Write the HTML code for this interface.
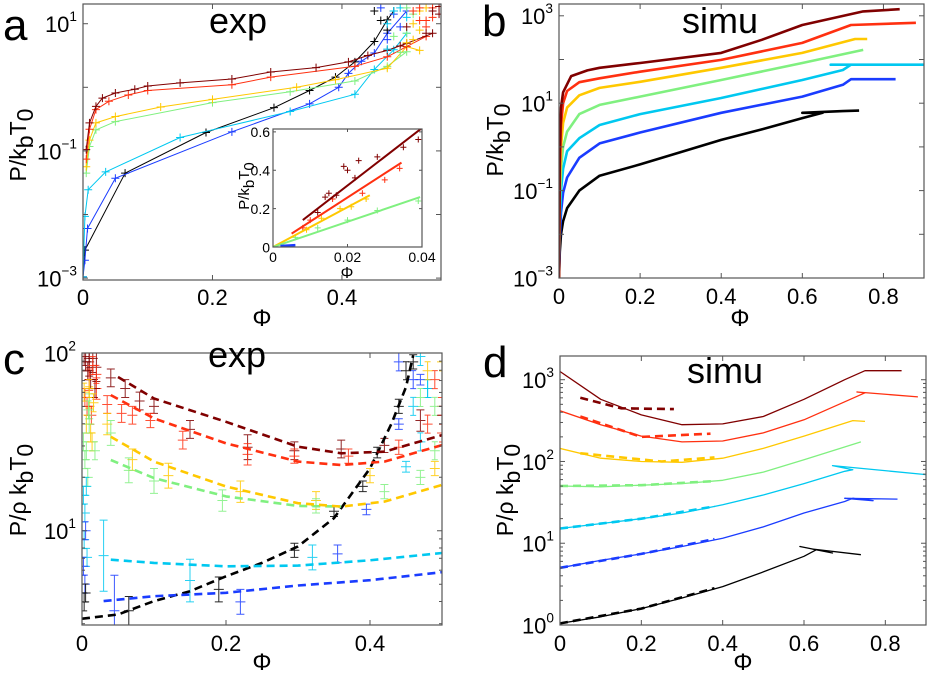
<!DOCTYPE html>
<html><head><meta charset="utf-8">
<style>
html,body{margin:0;padding:0;background:#fff;}
svg{display:block;font-family:"Liberation Sans",sans-serif;}
</style></head>
<body>
<svg id="fig" width="927" height="674" viewBox="0 0 927 674" xmlns="http://www.w3.org/2000/svg"></svg>
<script>
// ---------- DATA ----------
const seriesNames = ['black','blue','cyan','green','yellow','red','darkred'];
const seriesColors = ['#000000','#1a3cff','#00c8f0','#80f080','#ffc800','#ff3010','#800000'];

// Panel a (exp): phi and log10(P/kbT0)
const aPhi = {
 darkred:[0.005,0.01,0.02,0.03,0.05,0.08,0.1,0.15,0.23,0.29,0.36,0.41,0.44,0.47,0.5,0.54],
 red:[0.005,0.01,0.02,0.04,0.07,0.1,0.23,0.29,0.42,0.47,0.5,0.53],
 yellow:[0.005,0.01,0.02,0.05,0.12,0.2,0.33,0.39,0.47,0.5,0.52],
 green:[0.005,0.01,0.02,0.05,0.2,0.32,0.42,0.47,0.5],
 cyan:[0,0.003,0.008,0.035,0.15,0.32,0.42,0.45,0.48,0.5],
 blue:[0,0.003,0.007,0.05,0.23,0.35,0.395,0.41,0.43,0.45,0.47,0.5],
 black:[0,0.003,0.065,0.19,0.295,0.35,0.39,0.42,0.45,0.47,0.48]
};
const aLogP = {
 darkred:[-0.98,-0.56,-0.30,-0.17,-0.09,-0.03,0.02,0.07,0.13,0.24,0.31,0.40,0.50,0.58,0.69,0.85],
 red:[-1.13,-0.66,-0.35,-0.22,-0.12,-0.05,0.04,0.16,0.33,0.48,0.64,0.80],
 yellow:[-1.25,-0.83,-0.56,-0.46,-0.31,-0.19,0.00,0.12,0.30,0.64,0.58],
 green:[-1.35,-0.93,-0.67,-0.54,-0.24,-0.07,0.10,0.33,0.56],
 cyan:[-2.98,-2.03,-1.61,-1.33,-0.79,-0.38,-0.11,0.28,0.59,0.85],
 blue:[-2.98,-2.72,-2.22,-1.43,-0.70,-0.26,0.00,0.22,0.41,0.54,0.85,1.2],
 black:[-2.98,-2.56,-1.35,-0.71,-0.32,-0.05,0.16,0.40,0.72,1.06,1.2]
};
// Panel a dense marker cluster top-right
const aCluPhi = [0.45,0.46,0.47,0.48,0.46,0.47,0.49,0.48,0.5,0.47,0.49,0.5,0.51,0.48,0.5,0.52,0.51,0.53,0.5,0.52,0.54,0.53,0.51,0.52,0.54,0.55,0.53,0.54,0.5,0.49,0.52,0.51,0.55,0.53,0.47,0.49];
const aCluLog = [1.2,1.05,0.9,1.15,1.25,0.75,0.95,1.2,1.1,1.0,1.25,0.85,1.15,0.8,1.25,1.2,1.0,1.25,0.7,0.9,1.1,0.95,1.2,1.05,1.25,1.15,0.85,1.2,0.95,0.65,1.25,0.75,1.27,1.05,0.6,0.55];
const aCluS = ['black','black','black','blue','blue','blue','blue','cyan','cyan','cyan','cyan','green','green','green','green','yellow','yellow','yellow','yellow','yellow','red','red','red','red','red','darkred','darkred','darkred','darkred','darkred','red','yellow','darkred','red','cyan','green'];
// inset a: linear fits
const insetNames = ['darkred','red','yellow','green'];
const insetX0 = [0.008,0.005,0.0,0.0];
const insetY0 = [0.14,0.07,0.0,0.0];
const insetX1 = [0.04,0.0345,0.026,0.0395];
const insetY1 = [0.62,0.44,0.27,0.26];
const insetPtsX = [0.012,0.014,0.015,0.017,0.019,0.02,0.022,0.023,0.028,0.035,0.039,0.008,0.01,0.016,0.024,0.03,0.034,0.009,0.013,0.018,0.021,0.025,0.006,0.012,0.02,0.028,0.039];
const insetPtsY = [0.18,0.26,0.28,0.27,0.42,0.40,0.36,0.45,0.47,0.52,0.56,0.10,0.14,0.25,0.28,0.35,0.41,0.09,0.15,0.20,0.21,0.25,0.05,0.10,0.14,0.19,0.24];
const insetPtsS = ['darkred','darkred','darkred','darkred','darkred','darkred','darkred','darkred','darkred','darkred','darkred','red','red','red','red','red','red','yellow','yellow','yellow','yellow','yellow','green','green','green','green','green'];

// Panel b (simu)
const bPhi = {
 black:[0,0.002,0.005,0.01,0.02,0.05,0.1,0.2,0.3,0.4,0.5,0.6,0.65,0.6,0.7,0.74],
 blue:[0,0.002,0.005,0.01,0.02,0.05,0.1,0.2,0.4,0.6,0.7,0.72,0.83],
 cyan:[0,0.002,0.005,0.01,0.02,0.05,0.1,0.2,0.4,0.6,0.7,0.72,0.67,0.9],
 green:[0,0.002,0.005,0.01,0.02,0.05,0.1,0.2,0.4,0.6,0.75],
 yellow:[0,0.002,0.005,0.01,0.02,0.05,0.1,0.2,0.4,0.6,0.73,0.76],
 red:[0,0.002,0.005,0.01,0.02,0.05,0.1,0.2,0.4,0.6,0.72,0.88],
 darkred:[0,0.002,0.005,0.01,0.03,0.07,0.1,0.2,0.4,0.5,0.6,0.75,0.84]
};
const bLogP = {
 black:[-3,-2.4,-2.0,-1.7,-1.4,-1.0,-0.66,-0.4,-0.12,0.16,0.4,0.66,0.78,0.78,0.82,0.83],
 blue:[-3,-2.1,-1.5,-1.05,-0.7,-0.25,0.08,0.33,0.78,1.15,1.42,1.55,1.55],
 cyan:[-3,-1.7,-1.0,-0.5,-0.1,0.2,0.5,0.75,1.12,1.53,1.76,1.88,1.88,1.88],
 green:[-3,-1.3,-0.5,0.0,0.35,0.75,0.96,1.15,1.53,1.92,2.22],
 yellow:[-3,-0.9,0.0,0.55,0.9,1.18,1.35,1.49,1.81,2.15,2.47,2.47],
 red:[-3,-0.5,0.5,1.0,1.28,1.48,1.57,1.72,1.99,2.38,2.79,2.84],
 darkred:[-3,-0.1,0.9,1.25,1.62,1.75,1.81,1.92,2.15,2.45,2.79,3.1,3.15]
};

// Panel c (exp): dashed model curves, log10(P/rho kbT0)
const cPhi = {
 darkred:[0.05,0.1,0.2,0.3,0.36,0.42,0.5],
 red:[0.04,0.1,0.2,0.3,0.36,0.42,0.5],
 yellow:[0.04,0.1,0.2,0.3,0.36,0.42,0.5],
 green:[0.04,0.1,0.2,0.3,0.36],
 cyan:[0.04,0.1,0.2,0.3,0.4,0.5],
 blue:[0.03,0.1,0.2,0.3,0.4,0.5],
 black:[0,0.05,0.1,0.15,0.2,0.25,0.3,0.35,0.4,0.43,0.45,0.46]
};
const cLogP = {
 darkred:[1.865,1.744,1.613,1.473,1.436,1.445,1.538],
 red:[1.763,1.632,1.492,1.389,1.370,1.389,1.482],
 yellow:[1.529,1.389,1.249,1.155,1.136,1.164,1.258],
 green:[1.398,1.296,1.193,1.140,1.136],
 cyan:[0.837,0.819,0.800,0.804,0.834,0.875],
 blue:[0.604,0.632,0.651,0.692,0.722,0.767],
 black:[0.505,0.529,0.604,0.660,0.744,0.819,0.912,1.071,1.351,1.604,1.809,1.987]
};
// Panel c error-bar points
const cPtPhi = [0.01,0.015,0.02,0.04,0.06,0.08,0.1,0.15,0.23,0.295,0.36,0.42,0.47,
 0.01,0.02,0.035,0.055,0.07,0.095,0.14,0.23,0.295,0.37,0.44,0.5,
 0.01,0.035,0.07,0.12,0.22,0.325,0.40,0.49,
 0.01,0.04,0.065,0.1,0.195,0.325,0.42,0.47,
 0.03,0.15,0.32,0.45,0.48,
 0.045,0.22,0.355,0.395,0.44,0.47,
 0.065,0.19,0.295,0.35,0.39,0.41,0.44,0.46];
const cPtLog = [1.95,1.97,1.92,1.86,1.80,1.73,1.70,1.57,1.47,1.45,1.46,1.48,1.62,
 1.85,1.80,1.71,1.66,1.65,1.62,1.51,1.43,1.42,1.42,1.47,1.70,
 1.75,1.60,1.40,1.31,1.22,1.17,1.31,1.35,
 1.70,1.55,1.34,1.28,1.17,1.14,1.22,1.30,
 0.86,0.72,0.85,1.36,1.80,
 0.55,0.60,0.87,1.12,1.60,1.85,
 0.55,0.67,0.89,1.11,1.25,1.44,1.70,1.95];
const cPtErr = [0.08,0.08,0.08,0.05,0.05,0.05,0.04,0.05,0.07,0.05,0.05,0.04,0.06,
 0.06,0.06,0.05,0.05,0.05,0.04,0.05,0.06,0.04,0.04,0.04,0.05,
 0.06,0.06,0.06,0.07,0.06,0.05,0.04,0.04,
 0.07,0.07,0.07,0.07,0.06,0.04,0.04,0.04,
 0.2,0.12,0.07,0.03,0.05,
 0.2,0.07,0.05,0.03,0.03,0.03,
 0.08,0.07,0.04,0.03,0.03,0.03,0.04,0.04];
const cPtS = ['darkred','darkred','darkred','darkred','darkred','darkred','darkred','darkred','darkred','darkred','darkred','darkred','darkred',
 'red','red','red','red','red','red','red','red','red','red','red','red',
 'yellow','yellow','yellow','yellow','yellow','yellow','yellow','yellow',
 'green','green','green','green','green','green','green','green',
 'cyan','cyan','cyan','cyan','cyan',
 'blue','blue','blue','blue','blue','blue',
 'black','black','black','black','black','black','black','black'];
// Panel c dense clusters (near phi=0 and top-right)
const cCluPhi = [0.003,0.005,0.008,0.01,0.012,0.015,0.018,0.02,0.004,0.007,0.01,0.013,0.016,0.003,0.006,0.009,0.012,0.002,0.004,0.006,0.008,0.002,0.004,0.006,0.003,0.005,0.007,0.002,0.004,0.003,0.005,0.01,0.014,0.018,
 0.44,0.45,0.46,0.47,0.48,0.49,0.5,0.47,0.48,0.49,0.5,0.46,0.48,0.5,0.49,0.47];
const cCluLog = [1.98,1.95,1.9,1.97,1.85,1.93,1.8,1.88,1.75,1.7,1.8,1.65,1.72,1.78,1.6,1.68,1.55,1.5,1.4,1.45,1.3,1.2,1.1,1.25,0.95,1.0,0.85,0.8,0.7,0.6,0.65,1.6,1.5,1.45,
 1.95,1.9,1.85,1.98,1.8,1.7,1.95,1.75,1.6,1.85,1.65,1.7,1.9,1.55,1.45,1.5];
const cCluS = ['darkred','darkred','darkred','darkred','darkred','red','darkred','red','red','red','yellow','red','yellow','yellow','yellow','green','yellow','green','green','green','green','cyan','cyan','cyan','cyan','blue','cyan','blue','blue','black','black','green','yellow','green',
 'blue','black','blue','cyan','cyan','green','yellow','green','red','red','darkred','cyan','yellow','red','green','cyan'];

// Panel d (simu): solid
const dPhi = {
 darkred:[0,0.1,0.2,0.3,0.4,0.5,0.6,0.7,0.75,0.84],
 red:[0,0.1,0.2,0.3,0.4,0.5,0.6,0.7,0.75,0.73,0.88],
 yellow:[0,0.1,0.2,0.3,0.4,0.5,0.6,0.72,0.75],
 green:[0,0.1,0.2,0.3,0.4,0.5,0.6,0.74],
 cyan:[0,0.1,0.2,0.3,0.4,0.5,0.6,0.7,0.72,0.67,0.9],
 blue:[0,0.1,0.2,0.3,0.4,0.5,0.6,0.7,0.72,0.77,0.7,0.83],
 black:[0,0.1,0.2,0.3,0.4,0.5,0.6,0.63,0.59,0.67,0.62,0.74]
};
const dLogP = {
 darkred:[3.10,2.76,2.57,2.45,2.46,2.55,2.76,3.00,3.11,3.11],
 red:[2.62,2.45,2.31,2.24,2.25,2.35,2.51,2.73,2.84,2.85,2.79],
 yellow:[2.16,2.04,2.00,1.99,2.04,2.16,2.31,2.50,2.49],
 green:[1.70,1.69,1.71,1.73,1.77,1.87,2.02,2.24],
 cyan:[1.18,1.24,1.30,1.37,1.47,1.59,1.73,1.88,1.90,1.95,1.84],
 blue:[0.70,0.79,0.87,0.96,1.06,1.20,1.37,1.51,1.55,1.52,1.55,1.54],
 black:[0.02,0.10,0.20,0.33,0.47,0.65,0.84,0.92,0.96,0.88,0.93,0.86]
};
// Panel d dashed (theory)
const dDPhi = {
 darkred:[0.05,0.15,0.28], red:[0.05,0.2,0.37], yellow:[0.05,0.25,0.38],
 green:[0,0.2,0.38], cyan:[0,0.2,0.38], blue:[0,0.2,0.38], black:[0,0.2,0.38]
};
const dDLogP = {
 darkred:[2.78,2.65,2.64], red:[2.55,2.30,2.34], yellow:[2.10,2.00,2.05],
 green:[1.70,1.71,1.76], cyan:[1.18,1.30,1.45], blue:[0.70,0.87,1.05], black:[0.02,0.20,0.45]
};

// ---------- DRAWING ----------
const NS='http://www.w3.org/2000/svg';
const svg=document.getElementById('fig');
function el(tag,attrs,parent,text){const e=document.createElementNS(NS,tag);for(const k in attrs)e.setAttribute(k,attrs[k]);if(text!==undefined)e.textContent=text;(parent||svg).appendChild(e);return e;}
function colorOf(n){return seriesColors[seriesNames.indexOf(n)];}
let clipId=0;
function makePanel(o){
 const g=el('g',{});
 
 
 const sx=v=>o.x0+(v-o.xmin)/(o.xmax-o.xmin)*(o.x1-o.x0);
 const sy=v=>o.y1-(v-o.ymin)/(o.ymax-o.ymin)*(o.y1-o.y0);
 const id='clip'+(clipId++);
 const defs=el('defs',{},g);const cp=el('clipPath',{id:id},defs);
 el('rect',{x:o.x0,y:o.y0,width:o.x1-o.x0,height:o.y1-o.y0},cp);
 const plot=el('g',{'clip-path':'url(#'+id+')'},g);
 
 
 const fr=el('rect',{x:o.x0,y:o.y0,width:o.x1-o.x0,height:o.y1-o.y0,fill:'none',stroke:'#555','stroke-width':1.2},g);
 
 
 const tl=o.tick||5;
 o.xticks.forEach((t,i)=>{const x=sx(t);
  el('line',{x1:x,y1:o.y1,x2:x,y2:o.y1-tl,stroke:'#555'},g);
  el('line',{x1:x,y1:o.y0,x2:x,y2:o.y0+tl,stroke:'#555'},g);
  const tx=el('text',{x:x,y:o.y1+o.xlabOff,'font-size':o.fs,'text-anchor':'middle'},g,o.xtickLabels[i]);
  
  
 });
 if(o.ylog){
  for(let d=Math.floor(o.ymin);d<=Math.ceil(o.ymax);d++){
   for(let m=1;m<10;m++){const v=d+Math.log10(m);if(v<o.ymin-1e-6||v>o.ymax+1e-6)continue;
    if(m>1&&!o.minor)continue;
    const y=sy(v);const l=m===1?tl:tl*0.6;
    el('line',{x1:o.x0,y1:y,x2:o.x0+l,y2:y,stroke:'#555'},g);
    el('line',{x1:o.x1,y1:y,x2:o.x1-l,y2:y,stroke:'#555'},g);}
  }
  o.yticks.forEach((t,i)=>{const y=sy(t);
   const tx=el('text',{x:o.x0-o.ylabOff,y:y+o.fs*0.38,'font-size':o.fs,'text-anchor':'end'},g);
   
   
   el('tspan',{},tx,'10');
   el('tspan',{dy:-o.fs*0.5,'font-size':o.fs*0.62},tx,o.ytickLabels[i]);
  });
 } else {
  o.yticks.forEach((t,i)=>{const y=sy(t);
   el('line',{x1:o.x0,y1:y,x2:o.x0+tl,y2:y,stroke:'#555'},g);
   el('line',{x1:o.x1,y1:y,x2:o.x1-tl,y2:y,stroke:'#555'},g);
   const tx=el('text',{x:o.x0-o.ylabOff,y:y+o.fs*0.38,'font-size':o.fs,'text-anchor':'end'},g,o.ytickLabels[i]);
   
   
  });
 }
 return {g,plot,sx,sy};
}
function line(P,xs,ys,color,w,dash,name){
 const pts=xs.map((x,i)=>P.sx(x).toFixed(1)+','+P.sy(ys[i]).toFixed(1)).join(' ');
 const a={points:pts,fill:'none',stroke:color,'stroke-width':w,'stroke-linejoin':'round'};
 if(dash)a['stroke-dasharray']=dash;
 const p=el('polyline',a,P.plot);
 
 
}
function plus(P,x,y,color,s,name){
 const X=P.sx(x),Y=P.sy(y);
 const p=el('path',{d:`M${X-s},${Y}H${X+s}M${X},${Y-s}V${Y+s}`,stroke:color,'stroke-width':1,fill:'none'},P.plot);
 
 
}
function txt(x,y,s,str,name,extra){const t=el('text',Object.assign({x:x,y:y,'font-size':s},extra||{}),svg,str);
 
 return t;}
function ylabelPk(x,y,rho,name){
 const t=el('text',{x:0,y:0,'font-size':23,transform:`translate(${x},${y}) rotate(-90)`,'text-anchor':'middle'});
 
 
 el('tspan',{},t,rho?'P/ρ k':'P/k');
 el('tspan',{dy:7},t,'b');
 el('tspan',{dy:-7},t,'T');
 el('tspan',{dy:7},t,'0');
}

// Panel a
const A=makePanel({name:'panel-a',x0:83,x1:441,y0:4,y1:280,xmin:0,xmax:0.553,ymin:-3.03,ymax:1.31,ylog:true,minor:false,
 xticks:[0,0.2,0.4],xtickLabels:['0','0.2','0.4'],yticks:[-3,-1,1],ytickLabels:['−3','−1','1'],fs:22,xlabOff:25,ylabOff:6});
seriesNames.forEach(n=>{line(A,aPhi[n],aLogP[n],colorOf(n),1,null,'series-a-'+n);
 aPhi[n].forEach((x,i)=>plus(A,x,aLogP[n][i],colorOf(n),4,'marker-a-'+n));});
aCluPhi.forEach((x,i)=>plus(A,x,aCluLog[i],colorOf(aCluS[i]),4,'marker-a-cluster'));
// inset
const bg=el('rect',{x:273,y:129,width:149,height:118,fill:'#fff'});


const I=makePanel({name:'inset-a',x0:273,x1:422,y0:129,y1:247,xmin:0,xmax:0.04,ymin:0,ymax:0.615,ylog:false,tick:3,
 xticks:[0,0.02,0.04],xtickLabels:['0','0.02','0.04'],yticks:[0,0.2,0.4,0.6],ytickLabels:['0','0.2','0.4','0.6'],fs:14,xlabOff:15,ylabOff:3});
insetPtsX.forEach((x,i)=>plus(I,x,insetPtsY[i],colorOf(insetPtsS[i]),3,'inset-marker'));
insetNames.forEach((n,i)=>line(I,[insetX0[i],insetX1[i]],[insetY0[i],insetY1[i]],colorOf(n),2,null,'inset-fit-'+n));
line(I,[0.002,0.006],[0.005,0.01],colorOf('blue'),2.5,null,'inset-fit-blue');
txt(347,278,16,'Φ','inset-x-label',{'text-anchor':'middle'});
(function(){const t=el('text',{x:0,y:0,'font-size':15,transform:'translate(249,186) rotate(-90)','text-anchor':'middle'});
 
 
 el('tspan',{},t,'P/k');el('tspan',{dy:5},t,'b');el('tspan',{dy:-5},t,'T');el('tspan',{dy:5},t,'0');})();

// Panel b
const B=makePanel({name:'panel-b',x0:559,x1:924,y0:4,y1:278,xmin:0,xmax:0.9,ymin:-3,ymax:3.27,ylog:true,minor:false,
 xticks:[0,0.2,0.4,0.6,0.8],xtickLabels:['0','0.2','0.4','0.6','0.8'],yticks:[-3,-1,1,3],ytickLabels:['−3','−1','1','3'],fs:22,xlabOff:26,ylabOff:6});
seriesNames.forEach(n=>line(B,bPhi[n],bLogP[n],colorOf(n),2.6,null,'series-b-'+n));

// Panel c
const C=makePanel({name:'panel-c',x0:82,x1:442,y0:353,y1:625,xmin:0,xmax:0.5,ymin:Math.log10(2.95),ymax:2,ylog:true,minor:true,
 xticks:[0,0.2,0.4],xtickLabels:['0','0.2','0.4'],yticks:[1,2],ytickLabels:['1','2'],fs:22,xlabOff:26,ylabOff:6});
cPtPhi.forEach((x,i)=>{const c=colorOf(cPtS[i]);const y=cPtLog[i],e=cPtErr[i];
 const X=C.sx(x);
 const p=el('path',{d:`M${X},${C.sy(y-e)}V${C.sy(y+e)}M${X-4},${C.sy(y-e)}H${X+4}M${X-4},${C.sy(y+e)}H${X+4}M${X-5},${C.sy(y)}H${X+5}`,stroke:c,'stroke-width':1,fill:'none',opacity:0.85},C.plot);
 
 });
cCluPhi.forEach((x,i)=>{const c=colorOf(cCluS[i]);const X=C.sx(x),Y=C.sy(cCluLog[i]);
 const p=el('path',{d:`M${X-5},${Y}H${X+5}M${X},${Y-9}V${Y+9}M${X-3},${Y-9}H${X+3}M${X-3},${Y+9}H${X+3}`,stroke:c,'stroke-width':1,fill:'none',opacity:0.85},C.plot);
 
 });
seriesNames.forEach(n=>line(C,cPhi[n],cLogP[n],colorOf(n),2.6,'8,5','model-c-'+n));

// Panel d
const D=makePanel({name:'panel-d',x0:560,x1:926,y0:356,y1:625,xmin:0,xmax:0.9,ymin:0,ymax:3.29,ylog:true,minor:true,
 xticks:[0,0.2,0.4,0.6,0.8],xtickLabels:['0','0.2','0.4','0.6','0.8'],yticks:[0,1,2,3],ytickLabels:['0','1','2','3'],fs:22,xlabOff:26,ylabOff:6});
seriesNames.forEach(n=>{line(D,dDPhi[n],dDLogP[n],colorOf(n),2.6,'8,5','model-d-'+n);
 line(D,dPhi[n],dLogP[n],colorOf(n),1.3,null,'series-d-'+n);});

// labels
txt(3,40,44,'a','panel-letter-a');
txt(482,36,44,'b','panel-letter-b');
txt(3,374,44,'c','panel-letter-c');
txt(483,377,44,'d','panel-letter-d');
txt(238,33,36,'exp','title-a',{'text-anchor':'middle'});
txt(720,33,36,'simu','title-b',{'text-anchor':'middle'});
txt(237,367,36,'exp','title-c',{'text-anchor':'middle'});
txt(725,383,36,'simu','title-d',{'text-anchor':'middle'});
txt(262,326,24,'Φ','x-label-a',{'text-anchor':'middle'});
txt(740,326,24,'Φ','x-label-b',{'text-anchor':'middle'});
txt(262,670,24,'Φ','x-label-c',{'text-anchor':'middle'});
txt(743,670,24,'Φ','x-label-d',{'text-anchor':'middle'});
ylabelPk(26,145,false,'y-label-a');
ylabelPk(503,140,false,'y-label-b');
ylabelPk(26,490,true,'y-label-c');
ylabelPk(513,490,true,'y-label-d');
</script>
</body></html>
